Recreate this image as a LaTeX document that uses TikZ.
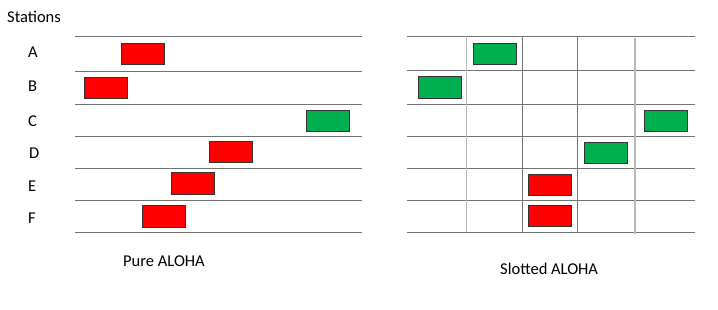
\documentclass[tikz,border=0pt]{standalone}
\usepackage{fontspec}
\setmainfont{Carlito}
\begin{document}
\begin{tikzpicture}[x=1pt,y=-1pt,
  gridline/.style={draw=black!55,line width=0.8pt},
  lightline/.style={draw=black!28,line width=1.2pt},
  frame/.style={draw=black!80,line width=0.7pt,minimum width=43pt,minimum height=21.5pt,inner sep=0pt,outer sep=0pt},
  redbox/.style={frame,fill=red},
  greenbox/.style={frame,fill={rgb,255:red,0;green,176;blue,80}},
  lbl/.style={font=\fontsize{16.5}{18}\selectfont,inner sep=0pt,anchor=base west}]
\useasboundingbox (0,0) rectangle (718,309);
% Left panel lines
\foreach \y [count=\i] in {36.5,71,104.3,136.3,168.6,200.6,232.3}{
  \coordinate (la\i) at (75,\y);
  \coordinate (lb\i) at (362,\y);
  \draw[gridline] (la\i) -- (lb\i);
}
% Right panel lines
\foreach \y [count=\i] in {36.2,70.7,104.3,136.3,168.3,200.3,232.3}{
  \coordinate (ra\i) at (406.7,\y);
  \coordinate (rb\i) at (695.3,\y);
  \draw[gridline] (ra\i) -- (rb\i);
}
\coordinate (v1t) at (466.7,36.2); \coordinate (v1b) at (466.7,232.3);
\coordinate (v2t) at (522.3,36.2); \coordinate (v2b) at (522.3,232.3);
\coordinate (v3t) at (577.3,36.2); \coordinate (v3b) at (577.3,232.3);
\coordinate (v4t) at (635,38); \coordinate (v4b) at (635,233.5);
\draw[lightline] (v1t) -- (v1b);
\draw[gridline] (v2t) -- (v2b);
\draw[gridline] (v3t) -- (v3b);
\draw[lightline] (v4t) -- (v4b);
% Labels
\node[lbl] (st) at (7,22.5) {Stations};
\node[lbl] (A) at (28,57.5) {A};
\node[lbl] (B) at (28,91.5) {B};
\node[lbl] (C) at (28,126) {C};
\node[lbl] (D) at (29,158.5) {D};
\node[lbl] (E) at (28,191) {E};
\node[lbl] (F) at (28,223.5) {F};
\node[lbl] (pure) at (123,266) {Pure ALOHA};
\node[lbl] (slot) at (500,274) {Slotted ALOHA};
% Left boxes
\node[redbox] (pa) at (143,53.8) {};
\node[redbox] (pb) at (106,88) {};
\node[greenbox] (pc) at (327.8,121) {};
\node[redbox] (pd) at (230.8,152) {};
\node[redbox] (pe) at (193,183.2) {};
\node[redbox] (pf) at (164.2,216.2) {};
% Right boxes
\node[greenbox] (sa) at (495.3,54) {};
\node[greenbox] (sb) at (440.2,87.5) {};
\node[greenbox] (sc) at (666.3,121) {};
\node[greenbox] (sd) at (605.8,152.8) {};
\node[redbox] (se) at (549.8,185) {};
\node[redbox] (sf) at (549.8,216) {};
\end{tikzpicture}
\end{document}
